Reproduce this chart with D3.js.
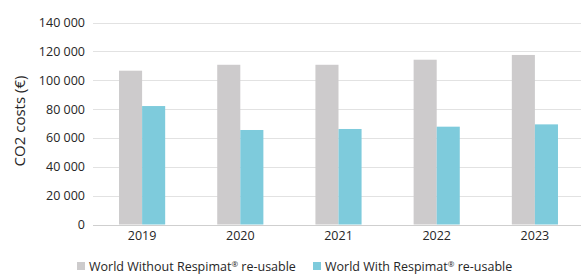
<!DOCTYPE html>
<html>
<head>
<meta charset="utf-8">
<script src="https://cdn.jsdelivr.net/npm/d3@7"></script>
<style>
    body { margin: 0; background: #fff; }
    text { font-family: "Open Sans", "Liberation Sans", sans-serif; fill: #262626; }
</style>
</head>
<body>
<div id="chart"></div>
<script>
"use strict";

const years = ['2019', '2020', '2021', '2022', '2023'];
const withoutRespimat = [106600, 110700, 110700, 114200, 117500];
const withRespimat = [82100, 65500, 66200, 67800, 69400];
const yTicks = [0, 20000, 40000, 60000, 80000, 100000, 120000, 140000];
const seriesNames = [['World Without Respimat', ' re-usable'], ['World With Respimat', ' re-usable']];
const seriesColors = ['#cdcbcc', '#7ecbdc'];

const width = 581, height = 275;
const margin = { left: 93, right: -3, top: 22.5, bottom: 50.5 };

const svg = d3.select('#chart')
    .append('svg')
    .attr('width', width)
    .attr('height', height);

const x = d3.scaleBand()
    .domain(years)
    .range([margin.left, width - margin.right])
    .paddingInner(0.53)
    .paddingOuter(0.265);

const y = d3.scaleLinear()
    .domain([0, 140000])
    .range([height - margin.bottom, margin.top]);

const fmt = v => d3.format(',')(v).replace(/,/g, ' ');

// gridlines
svg.append('g')
    .selectAll('line')
    .data(yTicks)
    .join('line')
    .attr('x1', margin.left)
    .attr('x2', width - margin.right)
    .attr('y1', d => Math.round(y(d)) + 0.5)
    .attr('y2', d => Math.round(y(d)) + 0.5)
    .attr('stroke', d => d === 0 ? '#cfcfcf' : '#e2e2e2')
    .attr('stroke-width', 1.2);

// y axis labels
const yAxis = d3.axisLeft(y).tickValues(yTicks).tickFormat(fmt).tickSize(0).tickPadding(8);
svg.append('g')
    .attr('transform', `translate(${margin.left},0)`)
    .call(yAxis)
    .call(g => g.select('.domain').remove())
    .call(g => g.selectAll('text')
        .style('font-family', '"Open Sans", "Liberation Sans", sans-serif')
        .style('font-size', '12.5px')
        .attr('fill', '#262626'));

// bars
const series = [withoutRespimat, withRespimat];
const barWidth = x.bandwidth() / 2;
series.forEach((values, i) => {
    svg.append('g')
        .selectAll('rect')
        .data(values)
        .join('rect')
        .attr('x', (d, j) => x(years[j]) + i * barWidth)
        .attr('y', d => y(d))
        .attr('width', barWidth)
        .attr('height', d => y(0) - y(d))
        .attr('fill', seriesColors[i]);
});

// x axis labels
const xAxis = d3.axisBottom(x).tickSize(0).tickPadding(7);
svg.append('g')
    .attr('transform', `translate(0,${y(0)})`)
    .call(xAxis)
    .call(g => g.select('.domain').remove())
    .call(g => g.selectAll('text')
        .style('font-family', '"Open Sans", "Liberation Sans", sans-serif')
        .style('font-size', '12.5px')
        .attr('fill', '#262626'));

// y axis title
svg.append('text')
    .attr('transform', 'translate(25,121) rotate(-90)')
    .attr('text-anchor', 'middle')
    .style('font-size', '15px')
    .text('CO2 costs (€)');

// legend
const legendX = [77, 313];
const legend = svg.append('g')
    .selectAll('g')
    .data(seriesNames)
    .join('g')
    .attr('transform', (d, i) => `translate(${legendX[i]},262)`);

legend.append('rect')
    .attr('width', 8)
    .attr('height', 8)
    .attr('fill', (d, i) => seriesColors[i]);

const legendText = legend.append('text')
    .attr('x', 12)
    .attr('y', 8.5)
    .style('font-size', '12.5px')
    .attr('fill', '#404040');

legendText.append('tspan').text(d => d[0]);
legendText.append('tspan')
    .attr('dy', -4)
    .style('font-size', '8px')
    .text('®');
legendText.append('tspan')
    .attr('dy', 4)
    .text(d => d[1]);
</script>
</body>
</html>
